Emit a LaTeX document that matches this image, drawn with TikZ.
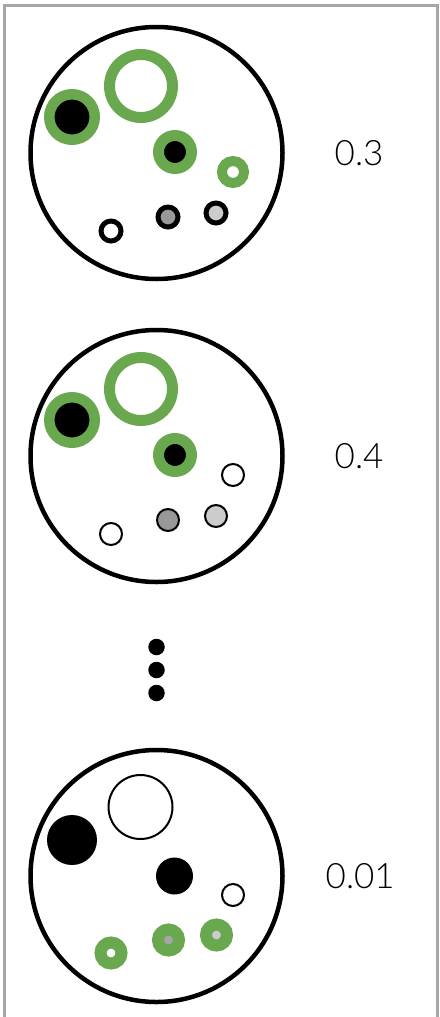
\documentclass[tikz,border=0pt]{standalone}
\usepackage{fontspec}
\setmainfont{Lato Light}
\usepackage{tikz}
\usetikzlibrary{positioning}
\definecolor{leaf}{RGB}{106,168,79}
\tikzset{
  blob/.style = {circle, inner sep=0pt, outer sep=0pt},
  bowl/.style = {blob, draw=black, line width=4.5pt, minimum size=252pt},
  fatdot/.style = {blob, draw=leaf, fill=black, line width=10.5pt, minimum size=45.5pt},
  openring/.style = {blob, draw=leaf, line width=11pt, minimum size=63pt},
  middot/.style = {blob, draw=leaf, fill=black, line width=11pt, minimum size=33pt},
  tinyring/.style = {blob, draw=leaf, fill=white, line width=10pt, minimum size=22pt},
  thickdot/.style = {blob, draw=black, line width=5pt, minimum size=20pt},
  thindot/.style = {blob, draw=black, line width=2pt, minimum size=22pt},
  greendot/.style = {blob, draw=leaf, line width=12pt, minimum size=21pt},
  ellip/.style = {blob, fill=black, minimum size=16.5pt},
  num/.style = {inner sep=0pt, font=\fontsize{35pt}{35pt}\selectfont},
  frame/.style = {draw=black!35, line width=3pt}
}

\begin{document}
\begin{tikzpicture}[x=1pt, y=-1pt]
  \useasboundingbox (0,0) rectangle (439,1017);
  \draw[frame] (4.5,1017) -- (4.5,5.5) -- (437.5,5.5) -- (437.5,1017);

  % first sample
  \node[bowl] (bowlA) at (156.5,153) {};
  \node[num, right=52pt of bowlA] (pA) {0.3};
  \begin{scope}[shift={(bowlA.center)}]
    \node[fatdot] (a1) at (-84.5,-36) {};
    \node[openring] (a2) at (-15.5,-67) {};
    \node[middot] (a3) at (18.5,-1) {};
    \node[tinyring] (a4) at (76.5,19) {};
    \node[thickdot, fill=white] (a5) at (-45.5,78) {};
    \node[thickdot, fill=black!40] (a6) at (11.5,64) {};
    \node[thickdot, fill=black!20] (a7) at (59.5,60) {};
  \end{scope}

  % second sample
  \node[bowl] (bowlB) at (156.5,456) {};
  \node[num, right=52pt of bowlB] (pB) {0.4};
  \begin{scope}[shift={(bowlB.center)}]
    \node[fatdot] (b1) at (-84.5,-36) {};
    \node[openring] (b2) at (-15.5,-67) {};
    \node[middot] (b3) at (18.5,-1) {};
    \node[thindot, fill=white] (b4) at (76.5,19) {};
    \node[thindot, fill=white] (b5) at (-45.5,78) {};
    \node[thindot, fill=black!40] (b6) at (11.5,64) {};
    \node[thindot, fill=black!20] (b7) at (59.5,60) {};
  \end{scope}

  % vertical ellipsis
  \node[ellip] (e1) at (156.5,647) {};
  \node[ellip, below=6.5pt of e1] (e2) {};
  \node[ellip, below=6.5pt of e2] (e3) {};

  % last sample
  \node[bowl] (bowlC) at (156.5,876) {};
  \node[num, right=43pt of bowlC] (pC) {0.01};
  \begin{scope}[shift={(bowlC.center)}]
    \node[blob, fill=black, minimum size=50pt] (c1) at (-84.5,-36) {};
    \node[thindot, fill=white, minimum size=64pt] (c2) at (-16,-69) {};
    \node[blob, fill=black, minimum size=37pt] (c3) at (18,0) {};
    \node[thindot, fill=white] (c4) at (76.5,19) {};
    \node[greendot, fill=white] (c5) at (-45.5,77) {};
    \node[greendot, fill=black!35] (c6) at (12,64) {};
    \node[greendot, fill=black!20] (c7) at (60,59) {};
  \end{scope}
\end{tikzpicture}
\end{document}
